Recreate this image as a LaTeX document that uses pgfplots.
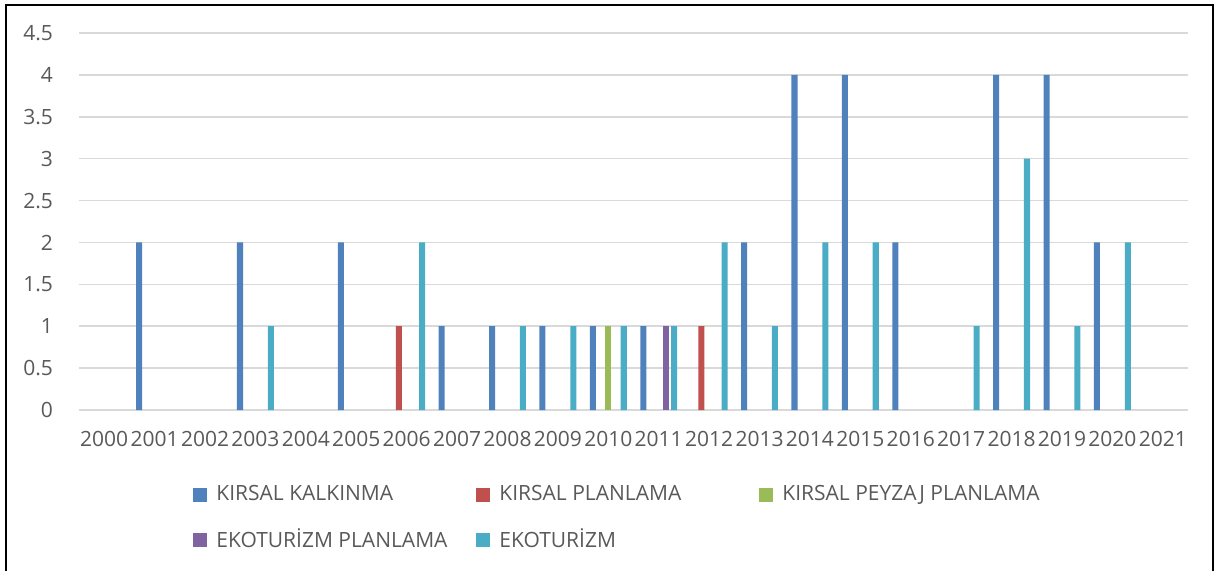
\documentclass[border=0pt]{standalone}
\usepackage{fontspec}
\setmainfont{Open Sans}
\usepackage{pgfplots}
\pgfplotsset{compat=1.18}
\definecolor{cKalk}{HTML}{4F81BD}
\definecolor{cPlan}{HTML}{C0504D}
\definecolor{cPeyz}{HTML}{9BBB59}
\definecolor{cEkoP}{HTML}{8064A2}
\definecolor{cEko}{HTML}{4BACC6}
\definecolor{textgray}{HTML}{595959}
\definecolor{gridgray}{HTML}{D9D9D9}
% legend entry in a box of fixed width, so the columns line up as in the original
\newcommand{\lbl}[1]{\makebox[130.5pt][l]{\hspace*{2.5pt}#1}}
\begin{document}
\begin{tikzpicture}
\useasboundingbox (0,0) rectangle (608pt,-285pt);
\draw[line width=1pt] (2.75pt,-290pt) -- (2.75pt,-2.25pt) -- (606.5pt,-2.25pt) -- (606.5pt,-290pt);
\begin{axis}[
  at={(39.5pt,-205pt)}, anchor=south west,
  scale only axis, width=554.5pt, height=188.5pt,
  xmin=-0.5, xmax=21.5, ymin=0, ymax=4.5,
  xtick={0,...,21},
  xticklabels={2000,2001,2002,2003,2004,2005,2006,2007,2008,2009,2010,2011,2012,2013,2014,2015,2016,2017,2018,2019,2020,2021},
  ytick={0,0.5,1,1.5,2,2.5,3,3.5,4,4.5},
  major tick length=0pt,
  axis line style={draw=none},
  ymajorgrids, grid style={line width=0.75pt, color=gridgray},
  tick label style={font=\fontsize{10.5}{12}\selectfont, text=textgray},
  /pgf/number format/assume math mode=true,
  xticklabel style={yshift=-7pt},
  yticklabel style={xshift=-9.5pt},
  ybar, bar width=0.12,
  clip=false,
  legend columns=3,
  legend style={at={(0.0974,-0.1785)}, anchor=north west, draw=none, fill=none,
    font=\fontsize{10.5}{12}\selectfont, text=textgray,
    column sep=0pt, row sep=8.5pt},
  legend image code/.code={\fill[#1] (0pt,-3.5pt) rectangle (7pt,3.5pt);},
]
\addplot[fill=cKalk, draw=none, bar shift=-0.306] coordinates {
 (1,2) (3,2) (5,2) (7,1) (8,1) (9,1) (10,1) (11,1) (13,2) (14,4) (15,4) (16,2) (18,4) (19,4) (20,2)};
\addlegendentry{\lbl{KIRSAL KALKINMA}}
\addplot[fill=cPlan, draw=none, bar shift=-0.153] coordinates {
 (6,1) (12,1)};
\addlegendentry{\lbl{KIRSAL PLANLAMA}}
\addplot[fill=cPeyz, draw=none, bar shift=0] coordinates {
 (10,1)};
\addlegendentry{\lbl{KIRSAL PEYZAJ PLANLAMA}}
\addplot[fill=cEkoP, draw=none, bar shift=0.153] coordinates {
 (11,1)};
\addlegendentry{\lbl{EKOTURİZM PLANLAMA}}
\addplot[fill=cEko, draw=none, bar shift=0.306] coordinates {
 (3,1) (6,2) (8,1) (9,1) (10,1) (11,1) (12,2) (13,1) (14,2) (15,2) (17,1) (18,3) (19,1) (20,2)};
\addlegendentry{\lbl{EKOTURİZM}}
\end{axis}
\end{tikzpicture}
\end{document}
